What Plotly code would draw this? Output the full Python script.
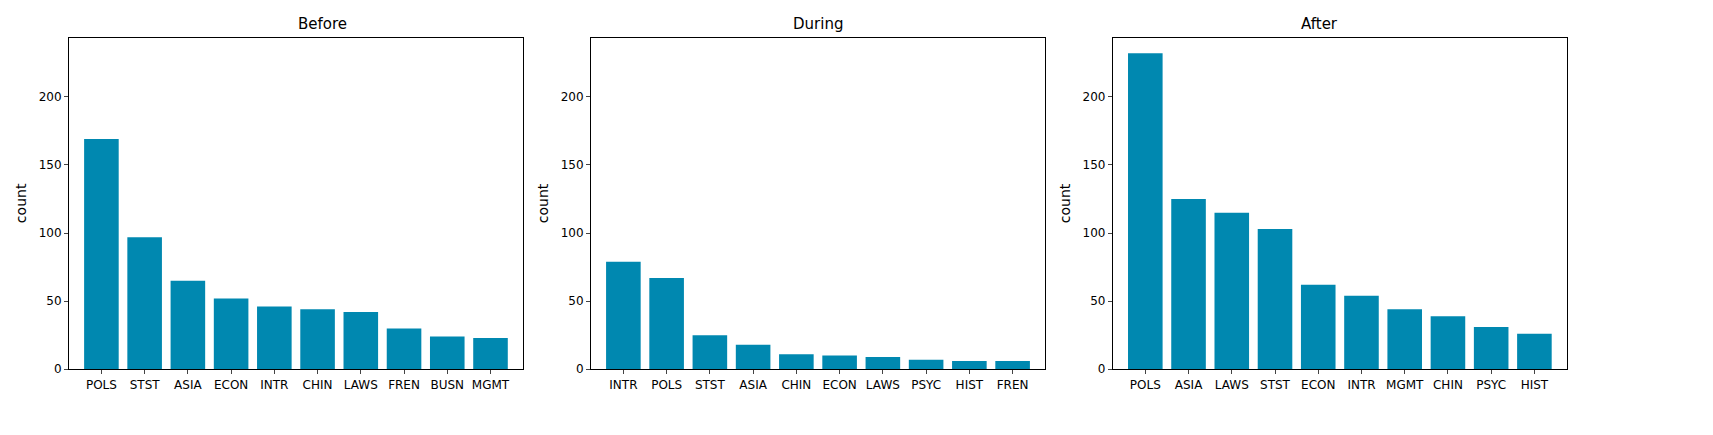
import plotly.graph_objects as go

before_cats = ["POLS", "STST", "ASIA", "ECON", "INTR", "CHIN", "LAWS", "FREN", "BUSN", "MGMT"]
before_vals = [169, 97, 65, 52, 46, 44, 42, 30, 24, 23]
during_cats = ["INTR", "POLS", "STST", "ASIA", "CHIN", "ECON", "LAWS", "PSYC", "HIST", "FREN"]
during_vals = [79, 67, 25, 18, 11, 10, 9, 7, 6, 6]
after_cats = ["POLS", "ASIA", "LAWS", "STST", "ECON", "INTR", "MGMT", "CHIN", "PSYC", "HIST"]
after_vals = [232, 125, 115, 103, 62, 54, 44, 39, 31, 26]

panels = [("Before", before_cats, before_vals),
          ("During", during_cats, during_vals),
          ("After", after_cats, after_vals)]
xdomains = [(0.0356, 0.3006), (0.3403, 0.6054), (0.645, 0.910)]
ydomain = (0.156, 0.931)
ymax = max(after_vals) * 1.05

fig = go.Figure()
for i, (title, cats, vals) in enumerate(panels):
    n = "" if i == 0 else str(i + 1)
    fig.add_trace(go.Bar(x=list(range(len(cats))), y=vals, width=0.8,
                         marker=dict(color="#0088b0", line=dict(width=0)),
                         xaxis="x" + n, yaxis="y" + n, showlegend=False))
    ax = dict(domain=xdomains[i], anchor="y" + n, range=[-0.75, len(cats) - 0.25],
              tickmode="array", tickvals=list(range(len(cats))), ticktext=cats,
              showline=True, mirror=True, linecolor="black", ticks="outside",
              ticklen=4, showgrid=False, zeroline=False)
    ay = dict(domain=ydomain, anchor="x" + n, range=[0, ymax],
              tickvals=[0, 50, 100, 150, 200],
              showline=True, mirror=True, linecolor="black", ticks="outside",
              ticklen=4, showgrid=False, zeroline=False,
              title=dict(text="count", standoff=8))
    fig.update_layout(**{"xaxis" + n: ax, "yaxis" + n: ay})
    fig.add_annotation(text=title, x=sum(xdomains[i]) / 2, y=ydomain[1],
                       xref="paper", yref="paper", yanchor="bottom", yshift=3,
                       showarrow=False, font=dict(size=15, color="black"))

fig.update_layout(width=1713, height=435, margin=dict(l=0, r=0, t=0, b=0),
                  plot_bgcolor="white", paper_bgcolor="white",
                  font=dict(family="DejaVu Sans", size=12, color="black"))
fig.write_html("out.html")
